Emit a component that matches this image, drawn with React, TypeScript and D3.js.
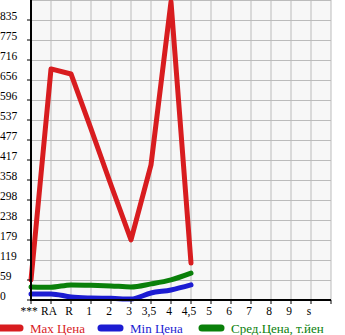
import * as d3 from "d3";
import { useEffect, useRef } from "react";

// категории по оси X (последний слот пустой)
const categories = ["***", "RA", "R", "1", "2", "3", "3,5", "4", "4,5", "5", "6", "7", "8", "9", "s", ""];
const maxPrice = [60, 689, 674, 510, 343, 179, 403, 889, 110];
const minPrice = [18, 18, 9, 6, 5, 3, 21, 30, 45];
const avgPrice = [39, 38, 45, 44, 42, 39, 48, 60, 80];
const yTickLabels = ["0", "59", "119", "179", "238", "298", "358", "417", "477", "537", "596", "656", "716", "775", "835"];
const yStep = 59.64;
const yMax = 894.6;

const series = [
  { name: "Max Цена", values: maxPrice, color: "#d81c1f", curve: d3.curveLinear },
  { name: "Min Цена", values: minPrice, color: "#1c1cd2", curve: d3.curveMonotoneX },
  { name: "Сред.Цена, т.йен", values: avgPrice, color: "#0a800a", curve: d3.curveMonotoneX },
];

export default function App() {
  const svgRef = useRef<SVGSVGElement>(null);

  useEffect(() => {
    if (!svgRef.current) return;
    const svg = d3.select(svgRef.current);
    svg.selectAll("*").remove();

    const left = 31;
    const right = 331;
    const top = 0;
    const bottom = 300;

    const x = d3
      .scalePoint<string>()
      .domain(categories.map((c, i) => String(i)))
      .range([left, right]);
    const y = d3.scaleLinear().domain([0, yMax]).range([bottom, top]);
    const font = "'Liberation Serif', serif";

    // фон
    svg
      .append("rect")
      .attr("x", left)
      .attr("y", top)
      .attr("width", right - left)
      .attr("height", bottom - top)
      .attr("fill", "#f7f7f7");

    // сетка
    const g = svg.append("g");
    categories.forEach((c, i) => {
      if (i === 0) return;
      g.append("line")
        .attr("x1", x(String(i))!)
        .attr("x2", x(String(i))!)
        .attr("y1", top)
        .attr("y2", bottom)
        .attr("stroke", "#bbb")
        .attr("stroke-width", 1);
    });
    d3.range(1, yTickLabels.length + 1).forEach((k) => {
      g.append("line")
        .attr("x1", left)
        .attr("x2", right)
        .attr("y1", y(k * yStep) + 0.5)
        .attr("y2", y(k * yStep) + 0.5)
        .attr("stroke", "#bbb")
        .attr("stroke-width", 1);
    });

    // линии
    series.forEach((s) => {
      const line = d3
        .line<number>()
        .x((d, i) => x(String(i))!)
        .y((d) => y(d))
        .curve(s.curve);
      svg
        .append("path")
        .datum(s.values)
        .attr("d", line)
        .attr("fill", "none")
        .attr("stroke", s.color)
        .attr("stroke-width", 5)
        .attr("stroke-linejoin", "round")
        .attr("stroke-linecap", "round");
    });

    // оси
    svg
      .append("line")
      .attr("x1", left)
      .attr("x2", left)
      .attr("y1", top)
      .attr("y2", bottom + 1)
      .attr("stroke", "#000")
      .attr("stroke-width", 2);
    svg
      .append("line")
      .attr("x1", left - 1)
      .attr("x2", right)
      .attr("y1", bottom)
      .attr("y2", bottom)
      .attr("stroke", "#000")
      .attr("stroke-width", 2);

    yTickLabels.forEach((t, k) => {
      svg
        .append("line")
        .attr("x1", left - 4)
        .attr("x2", left)
        .attr("y1", y(k * yStep))
        .attr("y2", y(k * yStep))
        .attr("stroke", "#000");
      svg
        .append("text")
        .attr("x", 0)
        .attr("y", y(k * yStep) - 0.5)
        .attr("font-family", font)
        .attr("font-size", 11.5)
        .attr("fill", "#000")
        .text(t);
    });

    categories.forEach((c, i) => {
      const cx = x(String(i))!;
      svg
        .append("line")
        .attr("x1", cx)
        .attr("x2", cx)
        .attr("y1", bottom)
        .attr("y2", bottom + 4)
        .attr("stroke", "#000");
      svg
        .append("text")
        .attr("x", cx - 2)
        .attr("y", bottom + 15)
        .attr("text-anchor", "middle")
        .attr("font-family", font)
        .attr("font-size", 11.5)
        .attr("fill", "#000")
        .text(c);
    });

    // легенда
    const legendX = [0, 100, 201];
    series.forEach((s, i) => {
      const lx = legendX[i];
      svg
        .append("line")
        .attr("x1", lx + 1)
        .attr("x2", lx + 20)
        .attr("y1", 328)
        .attr("y2", 328)
        .attr("stroke", s.color)
        .attr("stroke-width", 7)
        .attr("stroke-linecap", "round");
      svg
        .append("text")
        .attr("x", lx + 30)
        .attr("y", 333)
        .attr("font-family", font)
        .attr("font-size", 13)
        .attr("fill", s.color)
        .text(s.name);
    });
  }, []);

  return (
    <svg
      ref={svgRef}
      width={345}
      height={335}
      style={{ position: "absolute", left: 0, top: 0, background: "#fff" }}
    ></svg>
  );
}
